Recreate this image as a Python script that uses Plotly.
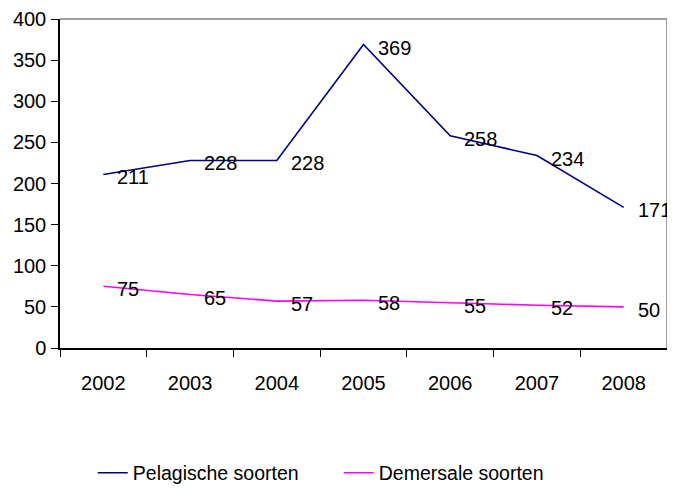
import plotly.graph_objects as go

years = ["2002", "2003", "2004", "2005", "2006", "2007", "2008"]
pelagisch = [211, 228, 228, 369, 258, 234, 171]
demersaal = [75, 65, 57, 58, 55, 52, 50]
y_ticks = [0, 50, 100, 150, 200, 250, 300, 350, 400]

FONT = "Liberation Sans, Arial, sans-serif"

fig = go.Figure()
fig.add_trace(go.Scatter(x=years, y=pelagisch, mode="lines", name="Pelagische soorten",
                         line=dict(color="#000080", width=1.6)))
fig.add_trace(go.Scatter(x=years, y=demersaal, mode="lines", name="Demersale soorten",
                         line=dict(color="#FF00FF", width=1.6)))

annotations = []
for series in (pelagisch, demersaal):
    for i, yv in enumerate(series):
        annotations.append(dict(x=i, y=yv, xref="x", yref="y", text=str(yv),
                                showarrow=False, xanchor="left", yanchor="middle",
                                xshift=12, yshift=-3,
                                font=dict(family=FONT, size=20, color="#000000")))

fig.update_layout(
    width=667, height=481,
    margin=dict(l=52, r=8, t=11, b=141, autoexpand=False),
    paper_bgcolor="white", plot_bgcolor="white",
    font=dict(family=FONT, size=20, color="#000000"),
    showlegend=True,
    legend=dict(orientation="h", x=0.054, xanchor="left", y=-0.38, yanchor="middle",
                entrywidth=201, entrywidthmode="pixels",
                font=dict(family=FONT, size=19.5, color="#000000"),
                bgcolor="rgba(0,0,0,0)"),
    annotations=annotations,
    shapes=[
        dict(type="line", xref="paper", yref="paper", x0=0, x1=1, y0=1, y1=1,
             line=dict(color="#808080", width=1.5)),
        dict(type="line", xref="paper", yref="paper", x0=1, x1=1, y0=0, y1=1,
             line=dict(color="#808080", width=1.5)),
    ],
)
fig.update_xaxes(type="category", range=[-0.5, 6.5], showgrid=False, showline=True,
                 linecolor="#000000", linewidth=1.5, ticks="outside",
                 tickson="boundaries", ticklen=7, tickcolor="#000000",
                 ticklabelstandoff=16, tickangle=0, automargin=False,
                 tickfont=dict(family=FONT, size=20), zeroline=False)
fig.update_yaxes(range=[0, 400], tickvals=y_ticks, showgrid=False, showline=True,
                 linecolor="#000000", linewidth=1.5, ticks="outside", ticklen=7,
                 tickcolor="#000000", ticklabelstandoff=1, automargin=False,
                 tickfont=dict(family=FONT, size=20), zeroline=False)

fig.write_html("out.html")
